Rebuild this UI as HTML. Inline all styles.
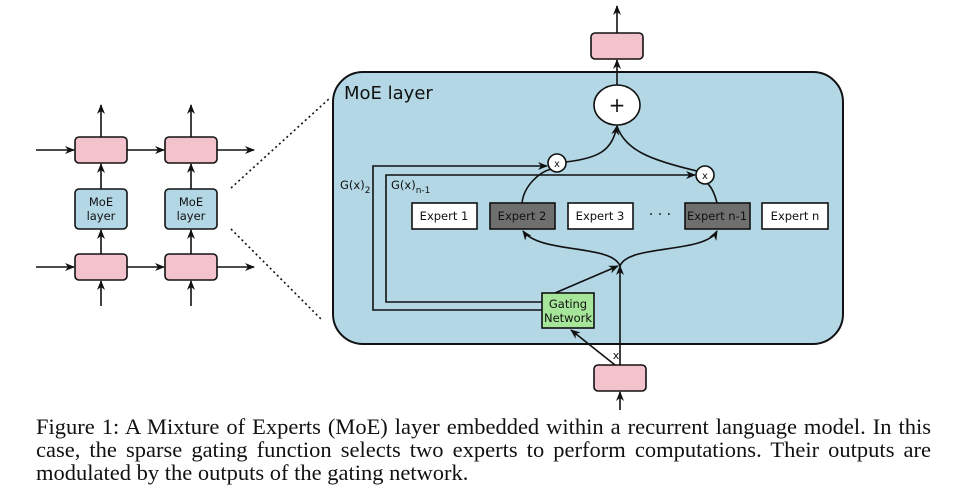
<!DOCTYPE html><html><head><style>
body{margin:0;background:#fff;width:966px;height:500px;overflow:hidden}
.cap{position:absolute;left:36px;top:415px;width:895px;font-family:"Liberation Serif",serif;font-size:22.5px;line-height:23px;color:#111}
.cap div{text-align:justify;text-align-last:justify;white-space:nowrap}
.cap div.l{text-align-last:left}
</style></head><body>
<svg width="966" height="410" style="position:absolute;left:0;top:0" font-family="DejaVu Sans, sans-serif">
<defs><marker id="a" markerWidth="10" markerHeight="10" refX="9" refY="5" orient="auto" markerUnits="userSpaceOnUse"><path d="M0,1 L10,5 L0,9 L3,5z" fill="#111"/></marker></defs>
<g stroke="#111" stroke-width="1.6" fill="none">
<rect x="333" y="72" width="510" height="272" rx="30" fill="#b3d7e4" stroke-width="2"/>
<line x1="36" y1="150" x2="74" y2="150" marker-end="url(#a)"/>
<line x1="127" y1="150" x2="164" y2="150" marker-end="url(#a)"/>
<line x1="217" y1="150" x2="254" y2="150" marker-end="url(#a)"/>
<line x1="36" y1="267" x2="74" y2="267" marker-end="url(#a)"/>
<line x1="127" y1="267" x2="164" y2="267" marker-end="url(#a)"/>
<line x1="217" y1="267" x2="254" y2="267" marker-end="url(#a)"/>
<line x1="101" y1="137" x2="101" y2="105" marker-end="url(#a)"/>
<line x1="191" y1="137" x2="191" y2="105" marker-end="url(#a)"/>
<line x1="101" y1="189" x2="101" y2="164" marker-end="url(#a)"/>
<line x1="191" y1="189" x2="191" y2="164" marker-end="url(#a)"/>
<line x1="101" y1="254" x2="101" y2="230" marker-end="url(#a)"/>
<line x1="191" y1="254" x2="191" y2="230" marker-end="url(#a)"/>
<line x1="101" y1="306" x2="101" y2="281" marker-end="url(#a)"/>
<line x1="191" y1="306" x2="191" y2="281" marker-end="url(#a)"/>
<rect x="75" y="137" width="52" height="26" rx="4" fill="#f4c2cc"/>
<rect x="165" y="137" width="52" height="26" rx="4" fill="#f4c2cc"/>
<rect x="75" y="254" width="52" height="26" rx="4" fill="#f4c2cc"/>
<rect x="165" y="254" width="52" height="26" rx="4" fill="#f4c2cc"/>
<rect x="75" y="189" width="52" height="40" rx="4" fill="#b3d7e4"/>
<rect x="165" y="189" width="52" height="40" rx="4" fill="#b3d7e4"/>
<line x1="231" y1="188" x2="330" y2="98" stroke-dasharray="2,3"/>
<line x1="231" y1="229" x2="322" y2="320" stroke-dasharray="2,3"/>
<line x1="617" y1="33" x2="617" y2="6" marker-end="url(#a)"/>
<line x1="617" y1="85" x2="617" y2="60" marker-end="url(#a)"/>
<rect x="591" y="33" width="52" height="26" rx="4" fill="#f4c2cc"/>
<ellipse cx="617" cy="105" rx="23" ry="20" fill="#fff"/>
<path d="M566,162 C600,158 612,150 617,126" marker-end="url(#a)"/>
<path d="M697,171 C650,160 625,150 617,126"/>
<path d="M522,203 C524,185 540,172 551,169"/>
<path d="M717,203 C715,195 712,188 708,184"/>
<path d="M542,310 H373 V166 H547" marker-end="url(#a)"/>
<path d="M542,302 H386 V175 H695" marker-end="url(#a)"/>
<circle cx="557" cy="163" r="9" fill="#fff"/>
<circle cx="705" cy="175" r="9" fill="#fff"/>
<rect x="412" y="203" width="65" height="26" fill="#fff"/>
<rect x="490" y="203" width="65" height="26" fill="#6f6f6f"/>
<rect x="568" y="203" width="65" height="26" fill="#fff"/>
<rect x="685" y="203" width="65" height="26" fill="#6f6f6f"/>
<rect x="762" y="203" width="66" height="26" fill="#fff"/>
<line x1="620" y1="365" x2="620" y2="266" marker-end="url(#a)"/>
<line x1="555" y1="293" x2="618" y2="266" marker-end="url(#a)"/>
<path d="M620,266 C612,244 540,254 523,231" marker-end="url(#a)"/>
<path d="M620,266 C628,244 705,254 717,231" marker-end="url(#a)"/>
<line x1="615" y1="365" x2="571" y2="330" marker-end="url(#a)"/>
<line x1="620" y1="418" x2="620" y2="392" marker-end="url(#a)"/>
<rect x="594" y="365" width="52" height="26" rx="4" fill="#f4c2cc"/>
<rect x="542" y="293" width="52" height="35" fill="#a6e69a"/>
</g>
<g fill="#111" font-size="11.5" text-anchor="middle">
<text x="101" y="206">MoE</text><text x="101" y="220">layer</text>
<text x="191" y="206">MoE</text><text x="191" y="220">layer</text>
<text x="444" y="220">Expert 1</text><text x="522" y="220">Expert 2</text>
<text x="600" y="220">Expert 3</text><text x="717" y="220">Expert n-1</text>
<text x="795" y="220">Expert n</text>
<text x="660" y="219" font-size="14">· · ·</text>
<text x="568" y="308">Gating</text><text x="568" y="322">Network</text>
<text x="557" y="167" font-size="10">x</text><text x="705" y="179" font-size="10">x</text>
<text x="616" y="359" font-size="11">x</text>
<text x="617" y="112" font-size="20">+</text>
</g>
<g fill="#111" font-size="11.5">
<text x="340" y="189">G(x)<tspan font-size="9" dy="4">2</tspan></text>
<text x="391" y="189">G(x)<tspan font-size="9" dy="4">n-1</tspan></text>
<text x="344" y="99" font-size="18">MoE layer</text>
</g>
</svg>
<div class="cap"><div>Figure 1: A Mixture of Experts (MoE) layer embedded within a recurrent language model. In this</div><div>case, the sparse gating function selects two experts to perform computations. Their outputs are</div><div class="l">modulated by the outputs of the gating network.</div></div>
</body></html>
